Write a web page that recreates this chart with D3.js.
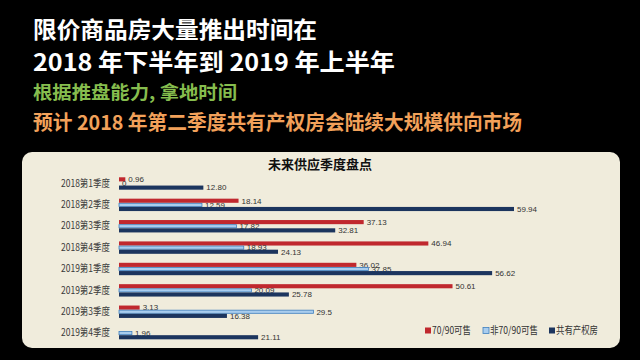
<!DOCTYPE html>
<html><head><meta charset="utf-8">
<script src="https://cdn.jsdelivr.net/npm/d3@7"></script>
<style>
html,body{margin:0;padding:0;background:#000;}
svg{display:block;}
</style></head>
<body>
<script>
const categories = ["2018第1季度","2018第2季度","2018第3季度","2018第4季度","2019第1季度","2019第2季度","2019第3季度","2019第4季度"];
const seriesNames = ["70/90可售","非70/90可售","共有产权房"];
const sale7090 = [0.96, 18.14, 37.13, 46.94, 36.02, 50.61, 3.13, null];
const saleNon7090 = [0, 12.59, 17.82, 18.93, 37.85, 20.09, 29.5, 1.96];
const sharedOwnership = [12.80, 59.94, 32.81, 24.13, 56.62, 25.78, 16.38, 21.11];
const labels7090 = ["0.96","18.14","37.13","46.94","36.02","50.61","3.13",""];
const labelsNon7090 = ["0","12.59","17.82","18.93","37.85","20.09","29.5","1.96"];
const labelsShared = ["12.80","59.94","32.81","24.13","56.62","25.78","16.38","21.11"];
const headerLines = ["限价商品房大量推出时间在","2018 年下半年到 2019 年上半年","根据推盘能力, 拿地时间","预计 2018 年第二季度共有产权房会陆续大规模供向市场"];
const chartTitle = "未来供应季度盘点";

const W = 640, H = 360;
const svg = d3.select("body").append("svg").attr("width", W).attr("height", H);
svg.append("rect").attr("width", W).attr("height", H).attr("fill", "#000");

const CJK = "'Noto Sans CJK SC','Noto Sans',sans-serif";

// headers
const hdr = [
  {y: 37.5, size: 23, color: "#ffffff", len: 284},
  {y: 71, size: 24, color: "#ffffff", len: 362},
  {y: 98.5, size: 18, color: "#86bd4e", len: 204},
  {y: 130, size: 20, color: "#f2a15a", len: 489}
];
headerLines.forEach((t, i) => {
  svg.append("text").attr("x", 33).attr("y", hdr[i].y)
    .attr("font-family", CJK).attr("font-weight", 700)
    .attr("font-size", hdr[i].size).attr("fill", hdr[i].color)
    .attr("textLength", hdr[i].len).attr("lengthAdjust", "spacingAndGlyphs")
    .text(t);
});

// panel
svg.append("rect").attr("x", 22).attr("y", 152).attr("width", 598).attr("height", 196)
  .attr("rx", 10).attr("fill", "#f0ecdc");

svg.append("text").attr("x", 320).attr("y", 169).attr("text-anchor", "middle")
  .attr("font-family", CJK).attr("font-weight", 700).attr("font-size", 13)
  .attr("fill", "#111").text(chartTitle);

const x = d3.scaleLinear().domain([0, 60]).range([119, 514.4]);
const y = d3.scaleBand().domain(categories).range([172.8, 343.8]).paddingInner(0.42).paddingOuter(0.21);
const yInner = d3.scaleBand().domain(seriesNames).range([0, y.bandwidth()]);

const colors = {"70/90可售": "#c0282e", "非70/90可售": "#a9cdee", "共有产权房": "#1c355e"};
const strokes = {"70/90可售": "none", "非70/90可售": "#3f7fbf", "共有产权房": "none"};

const series = [
  {name: seriesNames[0], values: sale7090, labels: labels7090},
  {name: seriesNames[1], values: saleNon7090, labels: labelsNon7090},
  {name: seriesNames[2], values: sharedOwnership, labels: labelsShared}
];

const yAxis = d3.axisLeft(y).tickSize(0).tickPadding(0);
const ga = svg.append("g").attr("transform", "translate(110,0)").call(yAxis);
ga.select(".domain").remove();
ga.selectAll("text").attr("font-family", CJK).attr("font-size", 10).attr("fill", "#3a3a3a")
  .attr("textLength", 49).attr("lengthAdjust", "spacingAndGlyphs");

series.forEach(s => {
  const data = categories.map((c, i) => ({c, v: s.values[i], l: s.labels[i]})).filter(d => d.v !== null);
  const g = svg.append("g");
  g.selectAll("rect").data(data).enter().append("rect")
    .attr("x", x(0))
    .attr("y", d => y(d.c) + yInner(s.name) + (strokes[s.name] !== "none" ? 0.5 : 0))
    .attr("width", d => Math.max(0, x(d.v) - x(0)))
    .attr("height", yInner.bandwidth() - (strokes[s.name] !== "none" ? 1 : 0))
    .attr("fill", colors[s.name])
    .attr("stroke", strokes[s.name]).attr("stroke-width", 0.8);
  g.selectAll("text").data(data).enter().append("text")
    .attr("x", d => x(d.v) + 3)
    .attr("y", d => y(d.c) + yInner(s.name) + yInner.bandwidth() / 2)
    .attr("dy", "0.35em")
    .attr("font-family", "'Liberation Sans',sans-serif").attr("font-size", 8)
    .attr("fill", "#333").text(d => d.l);
});

// legend
const legX = [425, 483, 549];
const legLen = [39, 48, 42];
series.forEach((s, i) => {
  svg.append("rect").attr("x", legX[i]).attr("y", 327.5).attr("width", 6).attr("height", 6)
    .attr("fill", colors[s.name]).attr("stroke", strokes[s.name]).attr("stroke-width", 0.8);
  svg.append("text").attr("x", legX[i] + 7).attr("y", 330.5).attr("dy", "0.35em")
    .attr("font-family", CJK).attr("font-size", 10.5).attr("fill", "#333")
    .attr("textLength", legLen[i]).attr("lengthAdjust", "spacingAndGlyphs")
    .text(s.name);
});
</script>
</body></html>
